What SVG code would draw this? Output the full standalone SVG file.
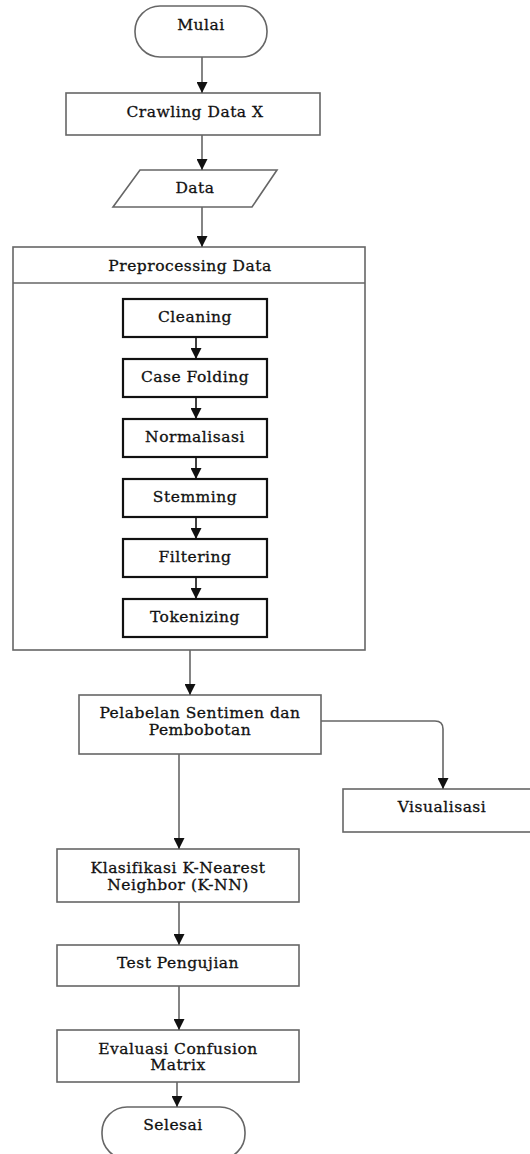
<svg xmlns="http://www.w3.org/2000/svg" width="530" height="1154" viewBox="0 0 530 1154">
<style>
.o{fill:#fff;stroke:#666;stroke-width:1.6}
.i{fill:#fff;stroke:#111;stroke-width:2.2}
.t{font-family:"DejaVu Serif",serif;font-size:15.5px;fill:#111;stroke:#111;stroke-width:0.3;text-anchor:middle;letter-spacing:0.5px}
.c{fill:none;stroke:#666;stroke-width:1.6}
.ci{fill:none;stroke:#111;stroke-width:1.6}
</style>
<defs>
<marker id="ah" markerUnits="userSpaceOnUse" markerWidth="11" markerHeight="11" refX="11" refY="5.5" orient="auto">
<path d="M0,0 L11,5.5 L0,11 z" fill="#111"/>
</marker>
</defs>
<g id="mulai"><rect class="o" x="135" y="6" width="132" height="51" rx="25"/><text class="t" x="201" y="30">Mulai</text></g>
<g id="crawling"><rect class="o" x="66" y="93" width="254" height="42"/><text class="t" x="195" y="117">Crawling Data X</text></g>
<g id="data"><polygon class="o" points="140,170 277,170 252,207 113,207"/><text class="t" x="195" y="193">Data</text></g>
<g id="preprocessing"><rect class="o" x="13" y="247" width="352" height="403"/><line class="o" x1="13" y1="283" x2="365" y2="283"/><text class="t" x="190" y="271">Preprocessing Data</text></g>
<g id="cleaning"><rect class="i" x="123" y="299" width="144" height="38"/><text class="t" x="195" y="322">Cleaning</text></g>
<g id="casefolding"><rect class="i" x="123" y="359" width="144" height="38"/><text class="t" x="195" y="382">Case Folding</text></g>
<g id="normalisasi"><rect class="i" x="123" y="419" width="144" height="38"/><text class="t" x="195" y="442">Normalisasi</text></g>
<g id="stemming"><rect class="i" x="123" y="479" width="144" height="38"/><text class="t" x="195" y="502">Stemming</text></g>
<g id="filtering"><rect class="i" x="123" y="539" width="144" height="38"/><text class="t" x="195" y="562">Filtering</text></g>
<g id="tokenizing"><rect class="i" x="123" y="599" width="144" height="38"/><text class="t" x="195" y="622">Tokenizing</text></g>
<g id="pelabelan"><rect class="o" x="79" y="695" width="242" height="59"/><text class="t" x="200" y="718">Pelabelan Sentimen dan</text><text class="t" x="200" y="735">Pembobotan</text></g>
<g id="visualisasi"><rect class="o" x="343" y="789" width="200" height="43"/><text class="t" x="442" y="812">Visualisasi</text></g>
<g id="klasifikasi"><rect class="o" x="57" y="849" width="242" height="53"/><text class="t" x="178" y="873">Klasifikasi K-Nearest</text><text class="t" x="178" y="890">Neighbor (K-NN)</text></g>
<g id="test"><rect class="o" x="57" y="945" width="242" height="41"/><text class="t" x="178" y="968">Test Pengujian</text></g>
<g id="evaluasi"><rect class="o" x="57" y="1030" width="242" height="52"/><text class="t" x="178" y="1054">Evaluasi Confusion</text><text class="t" x="178" y="1070">Matrix</text></g>
<g id="selesai"><rect class="o" x="102" y="1107" width="143" height="52" rx="25"/><text class="t" x="173" y="1130">Selesai</text></g>
<g id="connectors">
<line class="c" x1="202" y1="57" x2="202" y2="93" marker-end="url(#ah)"/>
<line class="c" x1="202" y1="135" x2="202" y2="170" marker-end="url(#ah)"/>
<line class="c" x1="202" y1="207" x2="202" y2="247" marker-end="url(#ah)"/>
<line class="ci" x1="196" y1="337" x2="196" y2="359" marker-end="url(#ah)"/>
<line class="ci" x1="196" y1="397" x2="196" y2="419" marker-end="url(#ah)"/>
<line class="ci" x1="196" y1="457" x2="196" y2="479" marker-end="url(#ah)"/>
<line class="ci" x1="196" y1="517" x2="196" y2="539" marker-end="url(#ah)"/>
<line class="ci" x1="196" y1="577" x2="196" y2="599" marker-end="url(#ah)"/>
<line class="c" x1="190" y1="650" x2="190" y2="695" marker-end="url(#ah)"/>
<path class="c" d="M321,721 H435 Q443,721 443,729 V789" marker-end="url(#ah)"/>
<line class="c" x1="179" y1="754" x2="179" y2="849" marker-end="url(#ah)"/>
<line class="c" x1="179" y1="902" x2="179" y2="945" marker-end="url(#ah)"/>
<line class="c" x1="179" y1="986" x2="179" y2="1030" marker-end="url(#ah)"/>
<line class="c" x1="177" y1="1082" x2="177" y2="1107" marker-end="url(#ah)"/>
</g>
</svg>
